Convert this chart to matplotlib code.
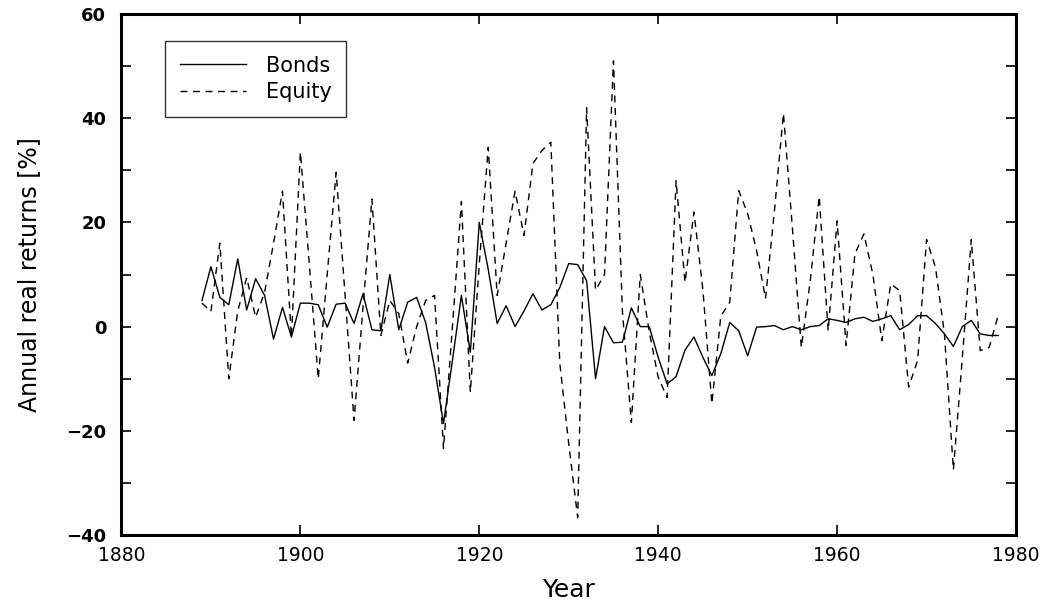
import matplotlib
matplotlib.use('Agg')
import matplotlib.pyplot as plt
from matplotlib.ticker import MultipleLocator

years = list(range(1889, 1979))

bonds = [5.0, 11.5, 5.6, 4.2, 13.0, 3.2, 9.2, 6.0, -2.4, 3.7,
         -2.0, 4.5, 4.5, 4.2, -0.1, 4.3, 4.5, 0.6, 6.3, -0.6,
         -0.8, 10.0, -0.6, 4.7, 5.6, 0.8, -7.8, -18.6, -6.5, 6.0,
         -4.9, 20.0, 11.0, 0.6, 4.0, 0.0, 3.0, 6.3, 3.2, 4.2,
         7.5, 12.1, 11.9, 8.8, -10.0, 0.0, -3.1, -3.0, 3.6, 0.0,
         0.0, -5.9, -11.0, -9.6, -4.5, -2.0, -5.9, -9.4, -5.2, 0.8,
         -0.8, -5.6, -0.1, 0.0, 0.2, -0.6, 0.0, -0.6, 0.0, 0.2,
         1.5, 1.2, 0.8, 1.5, 1.8, 1.0, 1.5, 2.1, -0.6, 0.4,
         2.1, 2.1, 0.6, -1.4, -3.8, 0.0, 1.2, -1.4, -1.7, -1.7]

equity = [4.5, 2.9, 16.0, -10.0, 3.0, 9.4, 1.8, 6.6, 16.0, 26.0,
          -2.0, 33.5, 12.0, -10.0, 10.0, 29.6, 6.0, -18.0, 3.7, 24.5,
          -1.7, 5.0, 2.5, -7.0, 0.0, 5.0, 6.0, -23.4, 0.0, 24.0,
          -12.6, 12.0, 34.4, 6.0, 16.0, 26.0, 17.5, 31.3, 33.8, 35.4,
          -7.0, -22.5, -36.6, 42.0, 7.0, 10.0, 51.0, 3.0, -18.4, 10.0,
          -1.0, -9.7, -13.6, 28.0, 8.5, 22.0, 7.0, -14.8, 2.0, 4.7,
          26.1, 21.7, 14.6, 5.4, 22.3, 40.9, 19.0, -4.0, 8.8, 25.0,
          -0.8, 20.3, -3.6, 14.0, 17.8, 10.0, -2.7, 8.2, 6.9, -11.6,
          -6.5, 16.7, 11.4, -1.4, -27.5, -6.0, 16.7, -4.6, -4.0, 2.1]

yticks = [-40, -20, 0, 20, 40, 60]
ylabels = ['\u221240', '\u221220', '0', '20', '40', '60']

fig = plt.figure(figsize=(10.47, 6.04), dpi=100)
ax = fig.add_axes([0.1160, 0.1142, 0.8544, 0.8626])

ax.plot(years, bonds, color='black', linewidth=1.0, label='Bonds')
ax.plot(years, equity, color='black', linewidth=1.0, dashes=(5, 4), label='Equity')

ax.set_xlim(1880, 1980)
ax.set_ylim(-40, 60)
ax.xaxis.set_major_locator(MultipleLocator(20))
ax.yaxis.set_minor_locator(MultipleLocator(10))
ax.set_yticks(yticks)
ax.set_yticklabels(ylabels, fontweight='bold')

for s in ax.spines.values():
    s.set_linewidth(2.2)
ax.tick_params(which='both', direction='in', top=True, right=True, width=1.2, length=7)
ax.tick_params(axis='x', labelsize=13.5, pad=8)
ax.tick_params(axis='y', labelsize=13, pad=11)

ax.set_xlabel('Year', fontsize=18, labelpad=9)
ax.set_ylabel('Annual real returns [%]', fontsize=17, labelpad=18)

leg = ax.legend(loc='upper left', bbox_to_anchor=(0.0486, 0.948), fontsize=15,
                frameon=True, fancybox=False, edgecolor='black', handlelength=3.2,
                handletextpad=0.95, borderpad=0.7, labelspacing=0.3, borderaxespad=0)
leg.get_frame().set_linewidth(1.0)

fig.savefig('out.png', dpi=100)
